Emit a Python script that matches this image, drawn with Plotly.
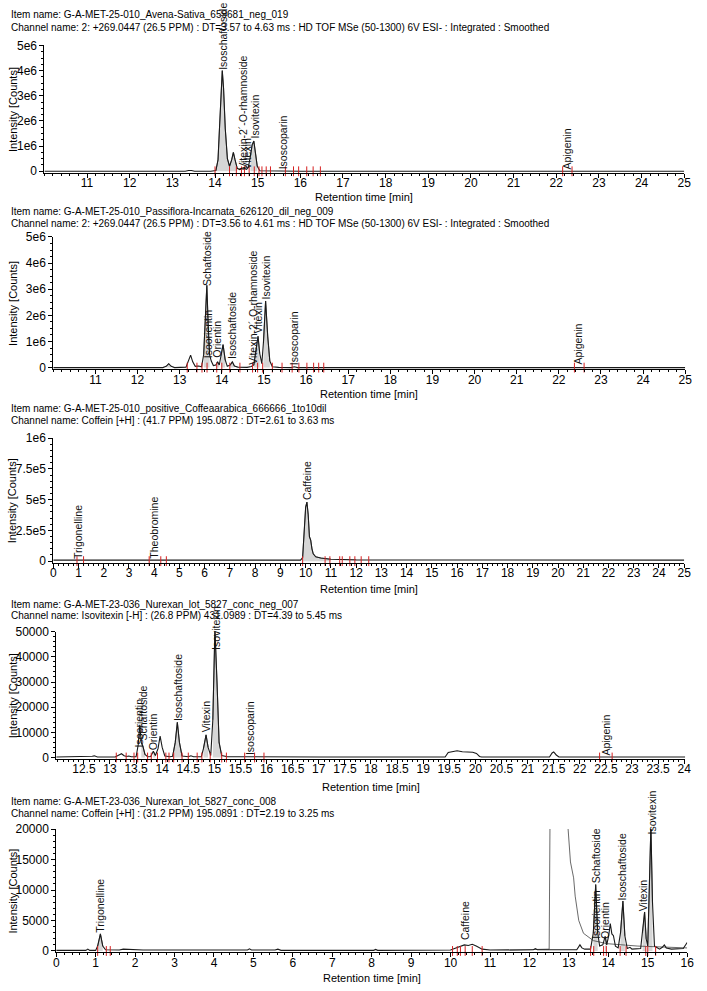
import plotly.graph_objects as go

W, H = 707, 991
FONT = "Liberation Sans, Arial, sans-serif"

# ---------------- Panel 1 : Avena sativa ----------------
p1_item = "Item name: G-A-MET-25-010_Avena-Sativa_659681_neg_019"
p1_channel = "Channel name: 2: +269.0447 (26.5 PPM) : DT=3.57 to 4.63 ms : HD TOF MSe (50-1300) 6V ESI- : Integrated : Smoothed"
p1_t = [10.0, 12.9, 13.05, 13.1, 13.15, 13.3, 13.38, 13.45, 13.52, 13.9, 14.02, 14.07, 14.11, 14.14, 14.17,
        14.2, 14.24, 14.29, 14.34, 14.39, 14.43, 14.47, 14.52, 14.58, 14.62, 14.66, 14.7, 14.74, 14.78,
        14.83, 14.87, 14.91, 14.95, 14.99, 15.05, 15.3, 15.55, 15.6, 15.65, 16.0, 22.15, 22.25, 22.35, 25.0]
p1_y = [0, 0, 0.012e6, 0.018e6, 0.01e6, 0, 0.03e6, 0.03e6, 0, 0, 0.03e6, 0.45e6, 1.9e6, 3.3e6, 4.0e6,
        3.3e6, 1.7e6, 0.5e6, 0.2e6, 0.45e6, 0.75e6, 0.45e6, 0.12e6, 0.07e6, 0.1e6, 0.09e6, 0.1e6, 0.08e6, 0.15e6,
        0.6e6, 1.05e6, 1.2e6, 0.75e6, 0.2e6, 0.02e6, 0.01e6, 0, 0.015e6, 0, 0, 0, 0.012e6, 0, 0]
p1_shade = [(14.02, 14.56), (14.8, 15.02)]
p1_labels = ["Isoschaftoside", "Vitexin-2´-O-rhamnoside", "Vitexin", "Isovitexin", "Isoscoparin", "Apigenin"]
p1_label_t = [14.18, 14.64, 14.76, 14.93, 15.59, 22.26]
p1_label_y = [4.0e6, 0.03e6, 0.03e6, 1.25e6, 0.03e6, 0.03e6]
p1_marks = [14.0, 14.34, 14.5, 14.62, 14.69, 14.8, 14.92, 15.03, 15.1, 15.2, 15.3, 15.65, 15.84,
            15.96, 16.15, 16.3, 16.47, 22.15, 22.37]
p1_xticks = [11, 12, 13, 14, 15, 16, 17, 18, 19, 20, 21, 22, 23, 24, 25]
p1_yticks = [0, 1e6, 2e6, 3e6, 4e6, 5e6]
p1_yticktext = ["0", "1e6", "2e6", "3e6", "4e6", "5e6"]

# ---------------- Panel 2 : Passiflora incarnata ----------------
p2_item = "Item name: G-A-MET-25-010_Passiflora-Incarnata_626120_dil_neg_009"
p2_channel = "Channel name: 2: +269.0447 (26.5 PPM) : DT=3.56 to 4.61 ms : HD TOF MSe (50-1300) 6V ESI- : Integrated : Smoothed"
p2_t = [10.0, 12.6, 12.68, 12.74, 12.8, 12.88, 13.15, 13.21, 13.26, 13.31, 13.37, 13.45, 13.52, 13.57,
        13.61, 13.645, 13.68, 13.71, 13.75, 13.8, 13.86, 13.9, 13.94, 13.98, 14.03, 14.08, 14.13, 14.2,
        14.25, 14.3, 14.38, 14.6, 14.7, 14.76, 14.81, 14.86, 14.9, 14.95, 14.99, 15.04, 15.09, 15.14,
        15.2, 15.35, 15.65, 15.72, 15.8, 22.4, 22.47, 22.54, 25.0]
p2_y = [0, 0, 0.05e6, 0.15e6, 0.05e6, 0, 0.02e6, 0.3e6, 0.48e6, 0.22e6, 0.05e6, 0.06e6, 0.03e6, 0.5e6,
        1.9e6, 3.15e6, 1.5e6, 0.5e6, 0.25e6, 0.08e6, 0.1e6, 0.22e6, 0.1e6, 0.45e6, 0.88e6, 0.3e6, 0.05e6, 0.1e6,
        0.22e6, 0.06e6, 0.02e6, 0.01e6, 0.04e6, 0.1e6, 0.6e6, 1.2e6, 0.55e6, 0.15e6, 1.0e6, 2.55e6, 1.2e6, 0.25e6,
        0.03e6, 0.01e6, 0, 0.03e6, 0, 0, 0.015e6, 0, 0]
p2_shade = [(12.68, 12.8), (13.55, 13.74), (13.84, 13.94), (13.96, 14.1), (14.18, 14.3), (14.74, 14.93), (14.96, 15.16)]
p2_labels = ["Schaftoside", "Isoorientin", "Orientin", "Isoschaftoside", "Vitexin-2´-O-rhamnoside",
             "Vitexin", "Isovitexin", "Isoscoparin", "Apigenin"]
p2_label_t = [13.645, 13.69, 13.89, 14.26, 14.74, 14.86, 15.05, 15.7, 22.46]
p2_label_y = [3.1e6, 0.33e6, 0.33e6, 0.3e6, 0.07e6, 1.25e6, 2.57e6, 0.07e6, 0.07e6]
p2_marks = [13.18, 13.41, 13.53, 13.65, 13.88, 14.0, 14.19, 14.43, 14.73, 14.85, 14.97, 15.2, 15.43,
            15.67, 15.83, 16.02, 16.18, 16.3, 16.42, 22.37, 22.6]
p2_xticks = [11, 12, 13, 14, 15, 16, 17, 18, 19, 20, 21, 22, 23, 24, 25]
p2_yticks = [0, 1e6, 2e6, 3e6, 4e6, 5e6]
p2_yticktext = ["0", "1e6", "2e6", "3e6", "4e6", "5e6"]

# ---------------- Panel 3 : Coffea arabica ----------------
p3_item = "Item name: G-A-MET-25-010_positive_Coffeaarabica_666666_1to10dil"
p3_channel = "Channel name: Coffein [+H] : (41.7 PPM) 195.0872 : DT=2.61 to 3.63 ms"
p3_t = [0.0, 9.8, 9.88, 9.94, 10.0, 10.05, 10.1, 10.15, 10.2, 10.25, 10.3, 10.4, 10.6, 11.0, 12.0, 25.0]
p3_y = [0.008e6, 0.008e6, 0.03e6, 0.22e6, 0.44e6, 0.48e6, 0.38e6, 0.2e6, 0.17e6, 0.1e6, 0.06e6,
        0.035e6, 0.025e6, 0.015e6, 0.01e6, 0.008e6]
p3_shade = [(9.88, 11.0)]
p3_labels = ["Trigonelline", "Theobromine", "Caffeine"]
p3_label_t = [0.98, 3.98, 10.08]
p3_label_y = [0.01e6, 0.01e6, 0.49e6]
p3_marks = [0.94, 1.2, 3.8, 4.26, 4.48, 9.88, 10.77, 10.96, 11.35, 11.45, 11.75, 11.95, 12.2, 12.5]
p3_xticks = list(range(0, 26))
p3_yticks = [0, 2.5e5, 5e5, 7.5e5, 1e6]
p3_yticktext = ["0", "2.5e5", "5e5", "7.5e5", "1e6"]

# ---------------- Panel 4 : Nurexan, Isovitexin channel ----------------
p4_item = "Item name: G-A-MET-23-036_Nurexan_lot_5827_conc_neg_007"
p4_channel = "Channel name: Isovitexin [-H] : (26.8 PPM) 431.0989 : DT=4.39 to 5.45 ms"
p4_t = [11.97, 12.6, 12.66, 12.7, 12.76, 13.1, 13.17, 13.22, 13.27, 13.32, 13.36, 13.41, 13.5, 13.54,
        13.57, 13.6, 13.63, 13.67, 13.72, 13.78, 13.83, 13.87, 13.92, 13.96, 14.0, 14.05, 14.15, 14.2,
        14.25, 14.29, 14.33, 14.38, 14.5, 14.55, 14.6, 14.75, 14.79, 14.84, 14.88, 14.93, 14.97, 15.01,
        15.05, 15.09, 15.14, 15.25, 17.0, 18.88, 18.92, 18.96, 19.42, 19.48, 19.55, 19.65, 19.75, 19.85,
        19.95, 20.02, 20.08, 20.12, 21.42, 21.47, 21.5, 21.55, 21.6, 24.02]
p4_y = [200, 200, 500, 650, 200, 200, 800, 1500, 700, 400, 600, 300, 300, 5000,
        13000, 6000, 4500, 1200, 300, 400, 2500, 800, 3500, 8500, 4000, 600, 300, 500,
        6000, 14000, 6000, 600, 300, 700, 300, 300, 3500, 9000, 4000, 800, 15000, 51000,
        30000, 6000, 800, 300, 200, 200, 500, 200, 200, 2000, 2400, 2700, 2300, 2200,
        2100, 1600, 400, 200, 200, 1800, 2200, 1000, 200, 200]
p4_shade = [(13.59, 13.7), (13.79, 13.88), (14.2, 14.4), (14.76, 14.92), (14.95, 15.16)]
p4_labels = ["Isoorientin", "Schaftoside", "Orientin", "Isoschaftoside", "Vitexin", "Isovitexin",
             "Isoscoparin", "Apigenin"]
p4_label_t = [13.56, 13.63, 13.84, 14.3, 14.83, 15.02, 15.68, 22.5]
p4_label_y = [3500, 6500, 2600, 14200, 9600, 42500, 500, 500]
p4_marks = [13.12, 13.31, 13.46, 13.53, 13.72, 13.79, 13.91, 14.07, 14.13, 14.22, 14.38, 14.5, 14.67,
            14.76, 14.92, 15.14, 15.23, 15.58, 15.77, 15.95, 22.38, 22.62]
p4_xticks = [12.5, 13, 13.5, 14, 14.5, 15, 15.5, 16, 16.5, 17, 17.5, 18, 18.5, 19, 19.5, 20, 20.5, 21,
             21.5, 22, 22.5, 23, 23.5, 24]
p4_xticktext = ["12.5", "13", "13.5", "14", "14.5", "15", "15.5", "16", "16.5", "17", "17.5", "18",
                "18.5", "19", "19.5", "20", "20.5", "21", "21.5", "22", "22.5", "23", "23.5", "24"]
p4_yticks = [0, 10000, 20000, 30000, 40000, 50000]
p4_yticktext = ["0", "10000", "20000", "30000", "40000", "50000"]

# ---------------- Panel 5 : Nurexan, Coffein channel ----------------
p5_item = "Item name: G-A-MET-23-036_Nurexan_lot_5827_conc_008"
p5_channel = "Channel name: Coffein [+H] : (31.2 PPM) 195.0891 : DT=2.19 to 3.25 ms"
p5_t = [0.0, 0.75, 0.8, 0.85, 1.0, 1.05, 1.12, 1.18, 1.25, 1.6, 1.7, 2.0, 2.2, 4.85, 4.9, 4.95, 5.55,
        5.62, 5.7, 8.05, 8.1, 8.15, 10.0, 10.1, 10.25, 10.35, 10.45, 10.55, 10.65, 10.8, 11.0, 12.1,
        12.15, 12.2, 13.2, 13.28, 13.33, 13.4, 13.55, 13.62, 13.68, 13.73, 13.78, 13.86, 13.92, 13.96,
        14.01, 14.05, 14.09, 14.13, 14.18, 14.25, 14.31, 14.37, 14.42, 14.48, 14.55, 14.6, 14.82, 14.87,
        14.92, 14.96, 15.0, 15.03, 15.08, 15.12, 15.17, 15.3, 15.37, 15.42, 15.47, 15.6, 15.9, 16.0]
p5_y = [100, 100, 300, 100, 100, 800, 2800, 800, 200, 150, 300, 250, 150, 150, 350, 150, 150,
        300, 100, 100, 250, 100, 150, 400, 700, 1000, 900, 1100, 800, 300, 150, 200,
        400, 200, 200, 1000, 500, 300, 300, 3000, 10900, 3000, 800, 1000, 2400, 1000,
        2500, 4500, 2800, 2500, 800, 500, 3000, 8200, 2500, 400, 600, 300, 400, 3000,
        6400, 2000, 800, 8000, 20500, 8000, 800, 300, 600, 1000, 500, 300, 400, 1400]
p5b_t = [11.5, 12.5, 12.53, 12.96, 12.98, 13.04, 13.12, 13.16, 13.25, 13.37, 13.62, 13.96, 14.75, 15.9, 16.0]
p5b_y = [150, 300, 30000, 30000, 20000, 14600, 12000, 9000, 5000, 2900, 1700, 1200, 800, 500, 500]
p5_shade = [(1.03, 1.22), (13.6, 13.76), (13.88, 13.96), (14.28, 14.46), (14.84, 14.99), (15.0, 15.16)]
p5_labels = ["Trigonelline", "Caffeine", "Isoorientin", "Schaftoside", "Orientin", "Isoschaftoside",
             "Vitexin", "Isovitexin"]
p5_label_t = [1.12, 10.35, 13.67, 13.71, 13.9, 14.37, 14.9, 15.1]
p5_label_y = [2900, 1600, 1800, 11000, 1800, 8200, 6400, 18900]
p5_marks = [1.05, 1.27, 1.37, 10.05, 10.17, 10.25, 10.37, 10.55, 10.8, 13.55, 13.63, 13.88, 13.95,
            14.3, 14.45, 14.95, 15.0, 15.2]
p5_xticks = list(range(0, 17))
p5_yticks = [0, 5000, 10000, 15000, 20000]
p5_yticktext = ["0", "5000", "10000", "15000", "20000"]

panels = [
    dict(item=p1_item, channel=p1_channel, t=p1_t, y=p1_y, extra=None, shade=p1_shade,
         labels=p1_labels, lt=p1_label_t, ly=p1_label_y, marks=p1_marks,
         xticks=p1_xticks, xtext=[str(v) for v in p1_xticks], yticks=p1_yticks, ytext=p1_yticktext,
         xr=[10, 25], ymax=5e6, px=(42, 691), py=(39, 168), ty=(8, 20.5), xt=193, xminor=0.2, yminor=0.25e6),
    dict(item=p2_item, channel=p2_channel, t=p2_t, y=p2_y, extra=None, shade=p2_shade,
         labels=p2_labels, lt=p2_label_t, ly=p2_label_y, marks=p2_marks,
         xticks=p2_xticks, xtext=[str(v) for v in p2_xticks], yticks=p2_yticks, ytext=p2_yticktext,
         xr=[10, 25], ymax=5e6, px=(51, 692), py=(233, 367), ty=(207, 219), xt=392, xminor=0.2, yminor=0.25e6),
    dict(item=p3_item, channel=p3_channel, t=p3_t, y=p3_y, extra=None, shade=p3_shade,
         labels=p3_labels, lt=p3_label_t, ly=p3_label_y, marks=p3_marks,
         xticks=p3_xticks, xtext=[str(v) for v in p3_xticks], yticks=p3_yticks, ytext=p3_yticktext,
         xr=[0, 25], ymax=1e6, px=(51, 691), py=(437, 563), ty=(407, 419), xt=590, xminor=0.2, yminor=0.5e5),
    dict(item=p4_item, channel=p4_channel, t=p4_t, y=p4_y, extra=None, shade=p4_shade,
         labels=p4_labels, lt=p4_label_t, ly=p4_label_y, marks=p4_marks,
         xticks=p4_xticks, xtext=p4_xticktext, yticks=p4_yticks, ytext=p4_yticktext,
         xr=[11.97, 24.02], ymax=50000, px=(54, 692), py=(633, 762), ty=(605, 617), xt=790, xminor=0.1, yminor=2000),
    dict(item=p5_item, channel=p5_channel, t=p5_t, y=p5_y, extra=(p5b_t, p5b_y), shade=p5_shade,
         labels=p5_labels, lt=p5_label_t, ly=p5_label_y, marks=p5_marks,
         xticks=p5_xticks, xtext=[str(v) for v in p5_xticks], yticks=p5_yticks, ytext=p5_yticktext,
         xr=[0, 16], ymax=20000, px=(54, 694), py=(833, 958), ty=(805, 817), xt=984, xminor=0.2, yminor=1000),
]

fig = go.Figure()
annotations = []
layout = dict(width=W, height=H, margin=dict(l=0, r=0, t=0, b=0), paper_bgcolor="white",
              plot_bgcolor="white", showlegend=False, font=dict(family=FONT, color="black"))

for i, P in enumerate(panels, start=1):
    sx = "" if i == 1 else str(i)
    xref, yref = "x" + sx, "y" + sx
    # shaded integrated peaks
    for (a, b) in P["shade"]:
        st = [t for t in P["t"] if a <= t <= b]
        sy = [y for t, y in zip(P["t"], P["y"]) if a <= t <= b]
        fig.add_trace(go.Scatter(x=st, y=sy, mode="lines", fill="tozeroy", fillcolor="#d6d6d6",
                                 line=dict(color="#555", width=0.8), xaxis=xref, yaxis=yref, hoverinfo="skip"))
    if P["extra"] is not None:
        fig.add_trace(go.Scatter(x=P["extra"][0], y=P["extra"][1], mode="lines",
                                 line=dict(color="#444", width=0.8), xaxis=xref, yaxis=yref))
    fig.add_trace(go.Scatter(x=P["t"], y=P["y"], mode="lines", line=dict(color="#1a1a1a", width=1.1),
                             xaxis=xref, yaxis=yref))
    # integration markers (red ticks)
    fig.add_trace(go.Scatter(x=P["marks"], y=[0] * len(P["marks"]), mode="markers",
                             marker=dict(symbol="line-ns-open", size=7, color="#d62020",
                                         line=dict(color="#d62020", width=1)),
                             xaxis=xref, yaxis=yref, cliponaxis=False))

    x0, x1 = P["px"]
    ytop, ybot = P["py"]
    ymax = P["ymax"]
    layout["xaxis" + sx] = dict(
        domain=[x0 / W, x1 / W], range=P["xr"], anchor=yref, showline=True, linecolor="black", linewidth=1,
        ticks="outside", ticklen=4, tickcolor="black", tickmode="array", tickvals=P["xticks"],
        ticktext=P["xtext"], tickfont=dict(size=12, family=FONT, color="black"), showgrid=False,
        ticklabelstandoff=-5,
        zeroline=False, minor=dict(dtick=P["xminor"], tick0=0, ticks="outside", ticklen=2, tickcolor="black"))
    ylo = -0.012 * ymax
    layout["yaxis" + sx] = dict(
        domain=[1 - ybot / H, 1 - ytop / H], range=[ylo, ymax], anchor=xref, showline=True, linecolor="black",
        linewidth=1, ticks="outside", ticklen=4, tickcolor="black", tickmode="array", tickvals=P["yticks"],
        ticktext=P["ytext"], tickfont=dict(size=12, family=FONT, color="black"), showgrid=False,
        zeroline=False, minor=dict(dtick=P["yminor"], tick0=0, ticks="outside", ticklen=2, tickcolor="black"))

    # header lines
    annotations.append(dict(text=P["item"], xref="paper", yref="paper", x=6 / W, y=1 - P["ty"][0] / H,
                            xanchor="left", yanchor="middle", showarrow=False, font=dict(size=10, family=FONT)))
    annotations.append(dict(text=P["channel"], xref="paper", yref="paper", x=6 / W, y=1 - P["ty"][1] / H,
                            xanchor="left", yanchor="middle", showarrow=False, font=dict(size=10, family=FONT)))
    # axis titles
    annotations.append(dict(text="Retention time [min]", xref="paper", yref="paper", x=(x0 + x1) / 2 / W,
                            y=1 - P["xt"] / H, xanchor="center", yanchor="middle", showarrow=False,
                            font=dict(size=11, family=FONT)))
    annotations.append(dict(text="Intensity [Counts]", xref="paper", yref="paper", x=10 / W,
                            y=1 - (ytop + ybot) / 2 / H, xanchor="center", yanchor="middle", showarrow=False,
                            textangle=-90, font=dict(size=11, family=FONT)))
    # compound labels
    for name, lt, ly in zip(P["labels"], P["lt"], P["ly"]):
        annotations.append(dict(text=name, xref=xref, yref=yref, x=lt, y=ly, xanchor="center",
                                yanchor="bottom", textangle=-90, showarrow=False,
                                font=dict(size=10.5, family=FONT, color="#111"),
                                borderpad=0))

layout["annotations"] = annotations
fig.update_layout(**layout)
fig.write_html("out.html")
